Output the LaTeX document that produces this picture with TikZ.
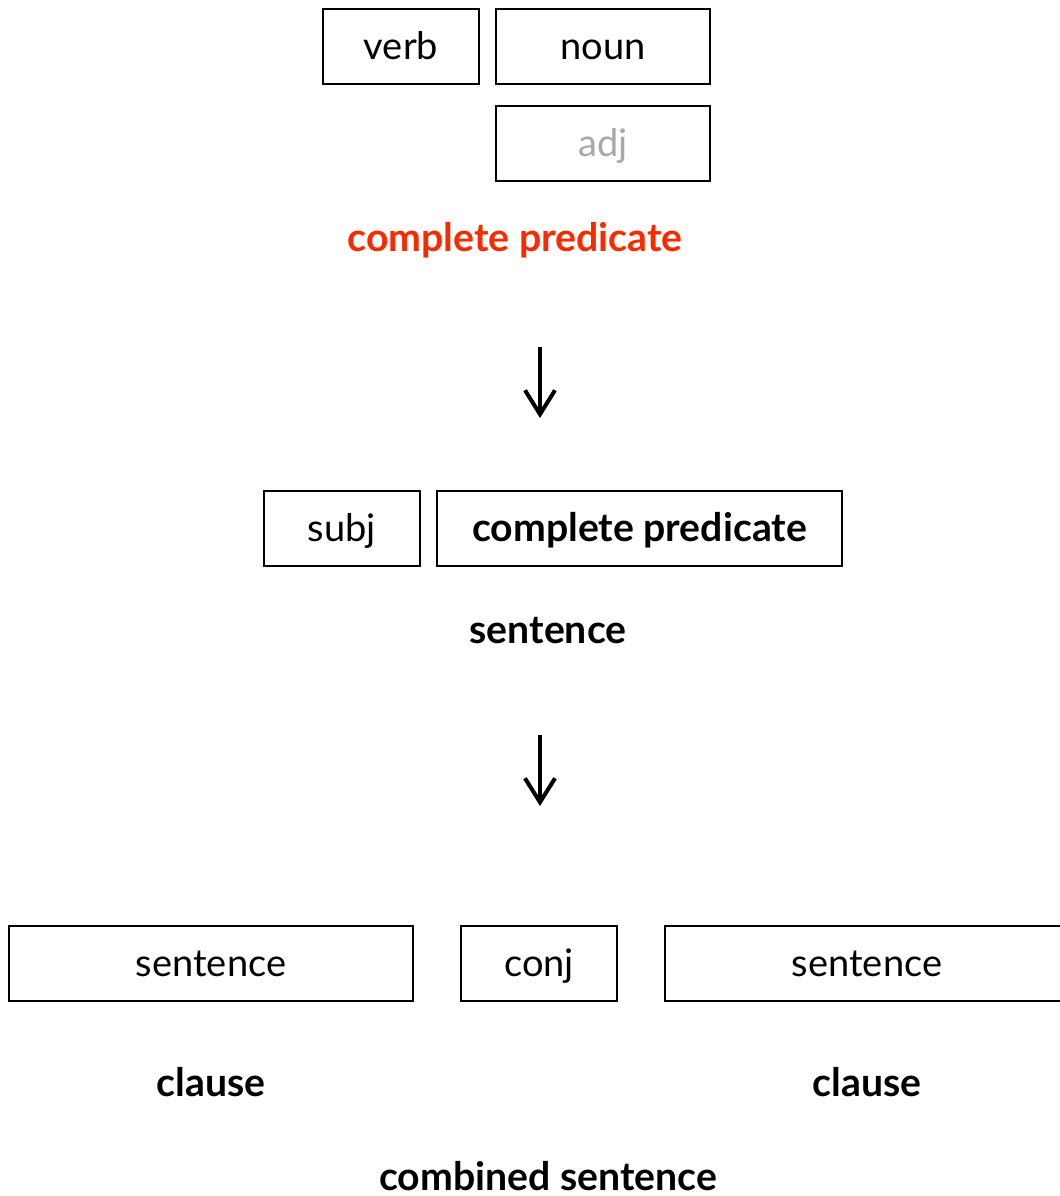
\documentclass[tikz,border=0pt]{standalone}
\usepackage{fontspec}
\setmainfont{Lato}
\usetikzlibrary{arrows.meta}
\definecolor{predred}{RGB}{250,42,0}
\definecolor{lightgray}{RGB}{168,168,168}

\begin{document}
\begin{tikzpicture}[x=0.5pt,y=-0.5pt,
		wordbox/.style={draw,line width=1.25pt,minimum height=37.5pt,inner sep=0pt,
			text height=12.5pt,text depth=0pt,font=\fontsize{19}{23}\selectfont},
		wordlbl/.style={inner sep=0pt,text height=10pt,text depth=0pt,
			font=\fontsize{19.6}{23}\selectfont\bfseries},
		down/.style={-{Straight Barb[length=12pt,width=15pt]},line width=2pt}]

		\useasboundingbox (0,0) rectangle (1060,1196);

		% top row: parts of the predicate
		\node[wordbox,minimum width=78pt]  (verb) at (401, 46.5) {verb};
		\node[wordbox,minimum width=107pt] (noun) at (603, 46.5) {noun};
		\node[wordbox,minimum width=107pt,text=lightgray] (adj) at (603,143.5) {adj};
		\node[wordlbl,text=predred] (cplbl) at (515, 241) {complete predicate};

		\coordinate (a1) at (540, 347);
		\coordinate (b1) at (540, 418);
		\draw[down] (a1) to (b1);

		% middle row: sentence
		\node[wordbox,minimum width=78pt]    (subj)  at (342, 528.5) {subj};
		\node[wordbox,minimum width=202.5pt,font=\fontsize{19.6}{23}\selectfont\bfseries]
			(cpred) at (639.5, 528.5) {complete predicate};
		\node[wordlbl] (sentlbl) at (548, 633) {sentence};

		\coordinate (a2) at (540, 735);
		\coordinate (b2) at (540, 806);
		\draw[down] (a2) to (b2);

		% bottom row: combined sentence
		\node[wordbox,minimum width=202pt] (sent1) at (211, 963.5) {sentence};
		\node[wordbox,minimum width=78pt]  (conj)  at (539, 963.5) {conj};
		\node[wordbox,minimum width=202pt] (sent2) at (867, 963.5) {sentence};

		\node[wordlbl] (cl1) at (211, 1086) {clause};
		\node[wordlbl] (cl2) at (867, 1086) {clause};
		\node[wordlbl] (comb) at (548, 1180) {combined sentence};

	\end{tikzpicture}
\end{document}
